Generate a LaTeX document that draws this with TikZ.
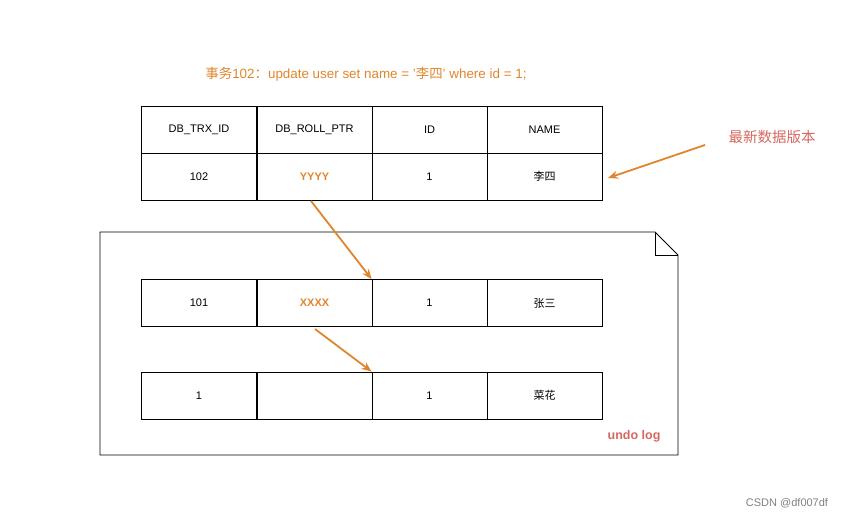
\documentclass[tikz,border=0pt]{standalone}
\usepackage{fontspec}
\setmainfont{Liberation Sans}
\newfontfamily\cjk{Noto Sans CJK SC}
\usetikzlibrary{arrows.meta}
\begin{document}
\begin{tikzpicture}[x=1pt,y=-1pt,
  cell/.style={draw=black,line width=0.8pt,minimum width=115pt,minimum height=47pt,inner sep=0pt,font=\fontsize{11}{13}\selectfont},
  arr/.style={draw=orange1,line width=1.8pt,-{Stealth[length=10pt,width=8pt]}},
  every node/.style={text=black}]
\definecolor{orange1}{HTML}{E0852D}
\definecolor{red1}{HTML}{D6675F}
\useasboundingbox (0,0) rectangle (850,518);
% undo log box
\draw[line width=0.8pt] (100,232) -- (655,232) -- (678,255) -- (678,455) -- (100,455) -- cycle;
\draw[line width=0.8pt] (655,232) -- (655,255) -- (678,255);
\node[font=\bfseries\fontsize{12.5}{15}\selectfont,text=red1] (ul) at (634,436) {undo log};
% title
\node[font=\fontsize{13.4}{16}\selectfont,text=orange1] (t) at (366,74) {{\cjk 事务}102{\cjk ：}update user set name = '{\cjk 李四}' where id = 1;};
% table 1
\node[cell] (a1) at (199,129.5) {DB\_TRX\_ID};
\node[cell] (b1) at (314.5,129.5) {DB\_ROLL\_PTR};
\node[cell] (c1) at (429.5,129.5) {ID};
\node[cell] (d1) at (544.5,129.5) {NAME};
\node[cell] (a2) at (199,176.5) {102};
\node[cell,text=orange1,font=\bfseries\fontsize{11}{13}\selectfont] (b2) at (314.5,176.5) {YYYY};
\node[cell] (c2) at (429.5,176.5) {1};
\node[cell] (d2) at (544.5,176.5) {\cjk 李四};
% row 101
\node[cell] (a3) at (199,303) {101};
\node[cell,text=orange1,font=\bfseries\fontsize{11}{13}\selectfont] (b3) at (314.5,303) {XXXX};
\node[cell] (c3) at (429.5,303) {1};
\node[cell] (d3) at (544.5,303) {\cjk 张三};
% row 1
\node[cell] (a4) at (199,395.5) {1};
\node[cell] (b4) at (314.5,395.5) {};
\node[cell] (c4) at (429.5,395.5) {1};
\node[cell] (d4) at (544.5,395.5) {\cjk 菜花};
% label
\node[font=\cjk\fontsize{14.5}{17}\selectfont,text=red1] (lbl) at (772,137) {最新数据版本};
\coordinate (ls) at (705,145);
\coordinate (le) at (608,178);
\draw[arr] (ls) -- (le);
\coordinate (s1) at (311,201);
\coordinate (s2) at (315,329);
\draw[arr] (s1) -- (c3.north west);
\draw[arr] (s2) -- (c4.north west);
\node[font=\fontsize{11}{13}\selectfont,text=gray] (w) at (787,503) {CSDN @df007df};
\end{tikzpicture}
\end{document}
